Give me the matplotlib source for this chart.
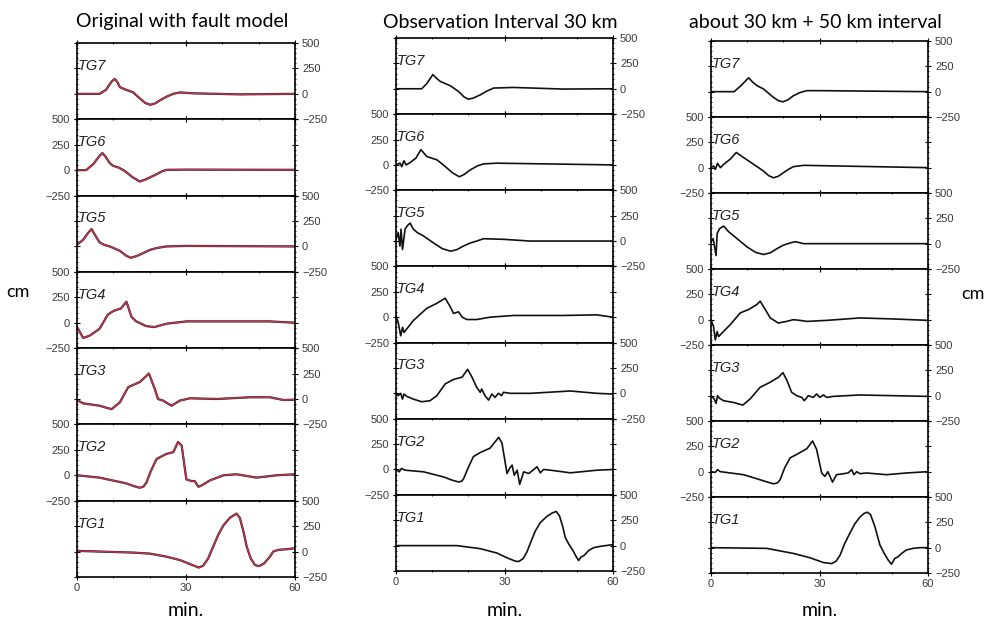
import numpy as np
from matplotlib import pyplot as plt
from matplotlib.ticker import MultipleLocator

# (minute, cm) readings per tide gauge, three panels
orig_tg7 = [(0,0),(6.2,0),(8.0,40),(9.5,120),(10.4,148),(11.2,110),(11.8,66),(13.5,40),(15.4,16),(17.3,-45),(18.8,-90),(20.2,-108),(21.6,-92),(23.0,-60),(24.8,-25),(26.5,0),(28.3,14),(32,5),(45,-5),(60,0)]
orig_tg6 = [(0,0),(2.5,0),(4.5,60),(6.2,140),(7.0,168),(7.9,130),(9.0,70),(9.9,43),(11.5,25),(13.1,-7),(15.3,-70),(17.3,-112),(19.0,-90),(21.9,-40),(23.5,-10),(24.6,3),(30,5),(60,3)]
orig_tg5 = [(0,16),(1.7,66),(3.0,130),(4.0,171),(5.0,110),(6.2,40),(7.5,15),(9.0,0),(11.8,-43),(13.5,-90),(14.8,-112),(16.4,-95),(18.2,-66),(20,-35),(21.9,-16),(24.6,0),(30,5),(60,0)]
orig_tg4 = [(0,-40),(1.7,-150),(3.5,-127),(6.2,-60),(8.5,80),(9.9,113),(10.8,125),(12.1,140),(13.6,207),(15.0,57),(16.3,13),(19.0,-33),(21.3,-43),(24.6,-10),(30.1,13),(43,13),(53,13),(60,0)]
orig_tg3 = [(0,-10),(1.7,-43),(6.2,-66),(9.5,-100),(11.8,-33),(14.1,117),(17.3,167),(19.8,250),(21.4,100),(22.3,0),(23.7,-16),(26.0,-66),(28.3,-16),(31.1,7),(38.4,0),(47.6,17),(53.1,17),(56.8,-10),(60,-7)]
orig_tg2 = [(0,0),(6.2,-23),(13.6,-80),(15.8,-108),(17.3,-123),(18.3,-110),(19.1,-73),(20.3,40),(21.9,160),(24.6,210),(26.5,227),(27.8,327),(28.8,293),(30.1,-40),(31.5,-57),(32.4,-57),(33.4,-113),(34.3,-100),(36.6,-50),(40.3,0),(43.9,10),(49.4,-23),(55,0),(60,10)]
orig_tg1 = [(0,7),(15.4,-10),(20,-20),(24.6,-50),(28.3,-83),(31.1,-123),(33.5,-157),(34.7,-140),(36.1,-68),(37.5,50),(38.9,167),(40.3,257),(42.1,333),(43.9,373),(44.8,333),(45.8,200),(46.7,50),(47.8,-67),(49.0,-133),(50.1,-143),(51.5,-117),(53.1,-50),(54.0,0),(55.4,17),(57.7,23),(60,33)]

obs30_tg7 = [(0,0),(7.1,0),(8.5,50),(10.2,140),(11.0,110),(12.2,73),(15.0,30),(17.3,-27),(18.8,-80),(20.0,-103),(21.5,-90),(23.3,-60),(25.0,-25),(27.0,7),(32.5,13),(46.3,-3),(60,0)]
obs30_tg6 = [(0,0),(1.1,17),(1.6,-17),(2.2,40),(2.8,0),(3.9,23),(5.5,67),(6.9,150),(8.5,83),(11.3,50),(13.1,0),(15.5,-75),(17.5,-117),(18.8,-95),(20.5,-50),(22.5,-10),(24.2,10),(27.9,17),(60,0)]
obs30_tg5 = [(0,17),(0.6,83),(1.1,-50),(1.4,117),(1.8,-83),(2.5,117),(3.1,150),(3.9,177),(4.8,117),(5.9,83),(7.6,50),(10.3,-17),(12.8,-75),(15.1,-100),(16.8,-85),(18.6,-50),(20.5,-20),(22.3,0),(24.2,23),(29.7,17),(37.1,0),(60,0)]
obs30_tg4 = [(0,17),(0.6,-50),(1.3,-183),(1.8,-100),(2.2,-150),(3.1,-110),(4.8,-33),(6.2,13),(8.5,87),(11.3,137),(13.6,187),(15.0,103),(15.9,37),(17.3,53),(18.3,0),(19.6,-23),(22.3,-23),(26.0,0),(32.5,17),(46.3,17),(55.5,23),(60,0)]
obs30_tg3 = [(0,0),(0.6,-23),(1.3,0),(1.8,-57),(2.2,-7),(3.0,-30),(4.8,-57),(7.1,-83),(9.4,-73),(11.3,-23),(13.6,93),(15.9,137),(18.3,160),(19.8,237),(21.0,160),(22.3,60),(23.3,10),(23.7,43),(24.6,-23),(25.6,-67),(26.5,-7),(27.4,-40),(28.3,0),(29.2,-23),(29.7,10),(31.6,0),(37.1,0),(48.2,23),(55.6,0),(60,-7)]
obs30_tg2 = [(0,0),(0.9,-23),(1.5,10),(2.5,-7),(7.6,-23),(13.1,-73),(15.5,-105),(17.3,-123),(18.2,-115),(18.7,-90),(20.0,20),(21.4,127),(23.3,167),(26.0,210),(28.4,317),(29.3,260),(30.7,-40),(31.4,10),(32.1,43),(32.7,-57),(33.5,-7),(34.2,-147),(35.3,-23),(36.7,-40),(38.1,0),(39.0,27),(39.9,-33),(40.8,0),(42.7,-7),(48.2,-33),(55.6,-7),(60,0)]
obs30_tg1 = [(0,0),(16.8,0),(23.3,-30),(27.9,-73),(30.7,-120),(33.0,-153),(33.9,-157),(35.1,-130),(36.2,-63),(37.1,20),(38.5,143),(39.9,227),(41.7,287),(43.1,320),(44.3,337),(45.2,293),(46.1,187),(46.8,80),(47.7,20),(48.9,-47),(49.8,-107),(50.5,-147),(51.1,-113),(52.0,-97),(53.3,-47),(54.7,-20),(56.5,-7),(60,10)]

obs80_tg7 = [(0,0),(6.4,0),(8.3,60),(10.4,137),(11.5,95),(12.7,60),(14.5,27),(17.3,-57),(18.7,-90),(19.9,-100),(21.3,-80),(22.8,-40),(24.5,-10),(26.5,10),(30.1,10),(60,0)]
obs80_tg6 = [(0,0),(0.7,17),(1.2,-17),(1.8,43),(2.6,0),(3.5,33),(5.3,83),(7.0,150),(9.0,100),(11.8,33),(14.5,-33),(16.0,-80),(17.3,-100),(18.6,-85),(20.0,-50),(21.5,-15),(22.8,10),(25.6,23),(60,0)]
obs80_tg5 = [(0,17),(0.6,50),(1.0,-33),(1.4,-117),(1.7,100),(2.4,150),(3.5,173),(4.9,117),(7.2,50),(10.0,-33),(12.3,-85),(14.5,-107),(16.4,-90),(18.2,-50),(20.0,-15),(21.9,7),(23.3,20),(25.6,0),(60,0)]
obs80_tg4 = [(0,0),(0.7,-67),(1.2,-200),(1.7,-117),(2.1,-167),(3.0,-133),(5.3,-50),(8.1,67),(10.4,100),(12.7,150),(13.6,183),(15.0,100),(16.4,17),(18.6,-33),(20.9,-17),(22.8,0),(24.6,-7),(26.5,-17),(32,-7),(41.2,17),(50.4,7),(60,-7)]
obs80_tg3 = [(0,0),(0.9,-33),(1.4,-77),(1.8,0),(2.4,-27),(3.5,-50),(6.2,-67),(8.8,-93),(10.8,-33),(13.6,83),(16.4,133),(18.7,183),(19.9,227),(21.0,150),(22.3,33),(23.7,0),(25.1,-17),(25.8,-50),(26.9,0),(28.3,-17),(29.2,17),(30.1,-17),(31.1,7),(32.0,-17),(33.8,-7),(41.2,7),(50.2,0),(60,-7)]
obs80_tg2 = [(0,0),(1.2,-7),(1.8,20),(2.6,0),(9.0,-30),(13.6,-80),(15.8,-105),(17.3,-120),(18.4,-110),(19.1,-80),(20.4,40),(21.9,137),(23.7,170),(26.5,227),(28.1,303),(29.2,220),(30.6,-13),(31.5,-47),(32.3,0),(32.9,-47),(33.6,-103),(34.7,-30),(36.1,-23),(37.9,-13),(38.9,20),(39.5,-30),(40.3,0),(41.2,-20),(43.0,-13),(48.5,-30),(54.0,-13),(60,0)]
obs80_tg1 = [(0,0),(15.4,-7),(22.8,-57),(27.4,-100),(31.1,-147),(33.4,-157),(34.6,-133),(35.7,-73),(37.0,43),(38.4,143),(39.8,237),(41.2,303),(42.3,337),(43.2,350),(44.1,327),(45.3,210),(46.7,27),(47.8,-50),(49.0,-123),(49.9,-163),(50.8,-107),(51.7,-90),(52.7,-57),(54.0,-23),(55.9,-7),(57.7,0),(60,0)]

gauges = ['TG7', 'TG6', 'TG5', 'TG4', 'TG3', 'TG2', 'TG1']
titles = ['Original with fault model', 'Observation Interval 30 km', 'about 30 km + 50 km interval']
panels = [
    [orig_tg7, orig_tg6, orig_tg5, orig_tg4, orig_tg3, orig_tg2, orig_tg1],
    [obs30_tg7, obs30_tg6, obs30_tg5, obs30_tg4, obs30_tg3, obs30_tg2, obs30_tg1],
    [obs80_tg7, obs80_tg6, obs80_tg5, obs80_tg4, obs80_tg3, obs80_tg2, obs80_tg1],
]

W, H = 992, 621
# pixel boxes (left, right, top, bottom) for each panel
boxes = [(77, 295, 43, 577), (396, 613, 38, 571), (711, 928, 41, 573)]

fig = plt.figure(figsize=(W / 100, H / 100), dpi=100)
tcol = '#3a3a3a'
tfont = 'Liberation Sans'
hfont = 'Lato'

for p, (l, r, t, b) in enumerate(boxes):
    h = (b - t) / 7
    for i, name in enumerate(gauges):
        top = t + i * h
        ax = fig.add_axes([l / W, 1 - (top + h) / H, (r - l) / W, h / H])
        d = np.array(panels[p][i], dtype=float)
        if p == 0:
            ax.plot(d[:, 0], d[:, 1], c='#222222', lw=1.6)
            ax.plot(d[:, 0], d[:, 1], c='#c8344f', lw=1.0)
        else:
            ax.plot(d[:, 0], d[:, 1], c='#111111', lw=1.2)
        ax.set_xlim(0, 60)
        ax.set_ylim(-250, 500)
        for s in ax.spines.values():
            s.set_linewidth(1.2)
        ax.xaxis.set_major_locator(MultipleLocator(30))
        ax.xaxis.set_minor_locator(MultipleLocator(10))
        ax.yaxis.set_major_locator(MultipleLocator(250))
        ax.yaxis.set_minor_locator(MultipleLocator(50))
        ax.tick_params(axis='both', which='major', direction='inout', length=4, width=0.8,
                       labelsize=8, labelcolor=tcol, top=True, right=True)
        ax.tick_params(axis='both', which='minor', direction='inout', length=2, width=0.6,
                       top=True, right=True)
        ax.tick_params(axis='x', labelbottom=(i == 6), pad=2)
        left_lab = i % 2 == 1
        ax.tick_params(axis='y', labelleft=left_lab, labelright=not left_lab, pad=3)
        for lab in ax.get_xticklabels() + ax.get_yticklabels():
            lab.set_family(tfont)
        ax.text(0.002, 0.70, name, transform=ax.transAxes, ha='left', va='center',
                fontsize=10.5, style='italic', family=tfont, color='#222222')
    cx = (l + r) / 2 / W
    fig.text(cx - 0.004, 1 - 22 / H, titles[p], ha='center', va='center', fontsize=14, family=hfont)
    fig.text(cx, 1 - 611 / H, 'min.', ha='center', va='center', fontsize=14, family=hfont)

fig.text(18 / W, 1 - 292 / H, 'cm', ha='center', va='center', fontsize=13, family=hfont)
fig.text(973 / W, 1 - 294 / H, 'cm', ha='center', va='center', fontsize=13, family=hfont)

fig.savefig('out.png', dpi=100, facecolor='white')
